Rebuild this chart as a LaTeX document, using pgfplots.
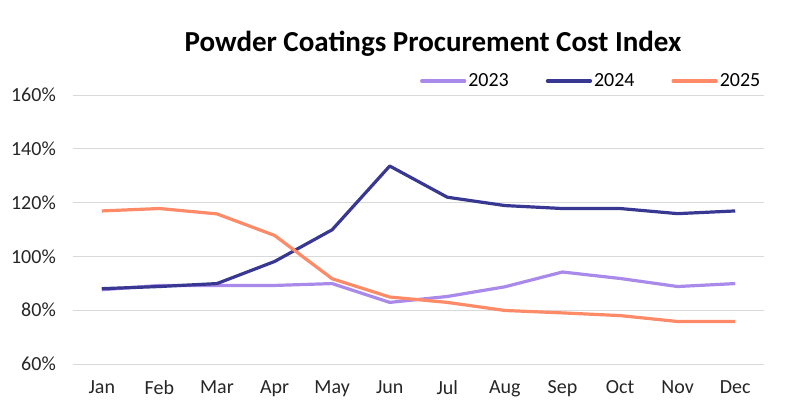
\documentclass[border=0pt]{standalone}
\usepackage{pgfplots}
\pgfplotsset{compat=1.18}
\usepackage{fontspec}
\setmainfont{Carlito}
\definecolor{c23}{HTML}{A98AEA}
\definecolor{c24}{HTML}{383892}
\definecolor{c25}{HTML}{FF8A68}
\definecolor{gridc}{HTML}{D9D9D9}
\begin{document}
\begin{tikzpicture}[x=1bp,y=1bp]
\path[use as bounding box] (0,0) rectangle (788,416);
\begin{axis}[
  at={(73bp,52bp)}, anchor=south west,
  scale only axis, width=691bp, height=269bp,
  xmin=-0.5, xmax=11.5, ymin=60, ymax=160,
  xtick={0,...,11},
  xticklabels={Jan,Feb,Mar,Apr,May,Jun,Jul,Aug,Sep,Oct,Nov,Dec},
  ytick={60,80,100,120,140,160},
  yticklabels={60\%,80\%,100\%,120\%,140\%,160\%},
  major tick length=0pt,
  axis line style={draw=none},
  ymajorgrids, grid style={gridc, line width=0.9bp},
  tick label style={font=\fontsize{20bp}{23bp}\selectfont, text=black!85},
  yticklabel style={anchor=east, inner sep=0pt, xshift=-17bp},
  xticklabel style={anchor=north, inner sep=0pt, yshift=-16bp},
  legend style={at={(0.502,1.052)}, anchor=west, draw=none, fill=none,
    inner sep=0pt, font=\fontsize{20bp}{23bp}\selectfont,
    /tikz/every even column/.append style={column sep=35bp}},
  legend columns=3,
  legend image code/.code={\draw[#1, line width=3.2bp, line cap=round] (0bp,0bp) -- (43bp,0bp);},
  every axis plot/.append style={line width=3.2bp, line join=round},
]
\addplot[c23, mark=none] coordinates {(0,87.6) (1,89.2) (2,89.2) (3,89.2) (4,89.9) (5,82.9) (6,85.1) (7,88.7) (8,94.2) (9,91.8) (10,88.8) (11,89.9)};
\addlegendentry{2023}
\addplot[c24, mark=none] coordinates {(0,88) (1,88.8) (2,89.9) (3,98.1) (4,109.9) (5,133.6) (6,122) (7,118.9) (8,117.8) (9,117.8) (10,115.9) (11,116.9)};
\addlegendentry{2024}
\addplot[c25, mark=none] coordinates {(0,116.9) (1,117.8) (2,115.8) (3,107.8) (4,91.7) (5,84.9) (6,82.9) (7,79.9) (8,79) (9,78) (10,75.8) (11,75.8)};
\addlegendentry{2025}
\end{axis}
\node[font=\fontsize{29bp}{33bp}\selectfont\bfseries] at (433,372) {Powder Coatings Procurement Cost Index};
\end{tikzpicture}
\end{document}
